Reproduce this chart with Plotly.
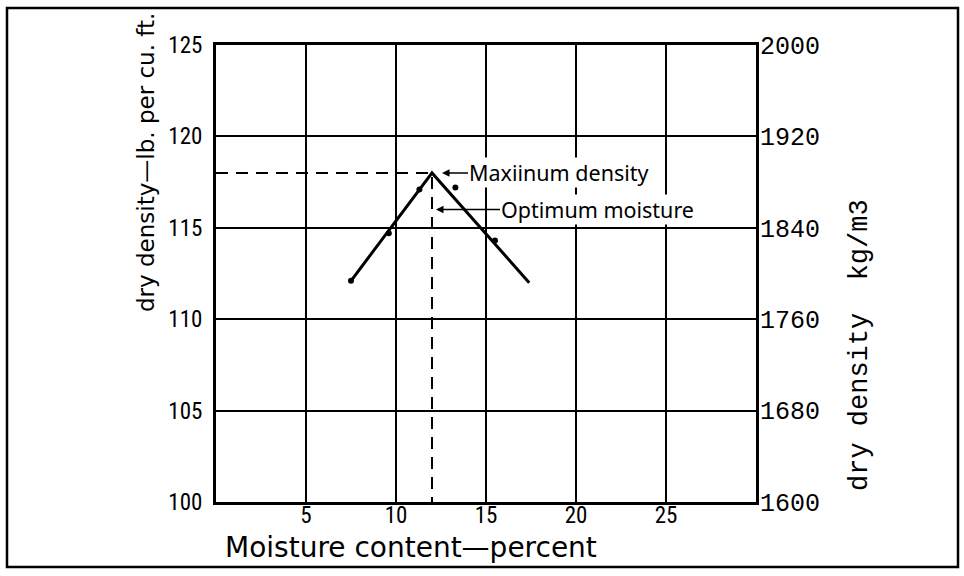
import plotly.graph_objects as go

# Compaction test readings: moisture content (%) vs dry density (lb per cu. ft.)
moisture = [7.5, 9.6, 11.3, 13.3, 15.5]
dry_density = [112.1, 114.7, 117.1, 117.2, 114.3]

# Straight-line compaction curve through the readings
curve_moisture = [7.5, 12.0, 17.4]
curve_density = [112.1, 118.0, 112.0]

OPT_MOISTURE = 12.0
MAX_DENSITY = 118.0

x_ticks = [5, 10, 15, 20, 25]
y_ticks = [100, 105, 110, 115, 120, 125]
metric_ticks = [1600, 1680, 1760, 1840, 1920, 2000]

W, H = 964, 576
L, R, T, B = 216, 208, 45, 74
PW, PH = W - L - R, H - T - B

HAND = "Liberation Sans Narrow, Roboto Condensed, Liberation Sans, sans-serif"
TEXT = "DejaVu Sans, Noto Sans, sans-serif"
NOTE = "Noto Sans, DejaVu Sans, sans-serif"
MONO = "Liberation Mono, Courier New, monospace"


def lb_to_kg(v):
    return 1600 + (v - 100) * 16


fig = go.Figure()

# guide lines from the peak to both axes
fig.add_trace(go.Scatter(
    x=[0, OPT_MOISTURE, OPT_MOISTURE], y=[MAX_DENSITY, MAX_DENSITY, 100],
    mode="lines", line=dict(color="black", width=2, dash="12px,8px"),
    hoverinfo="skip", showlegend=False))

fig.add_trace(go.Scatter(
    x=curve_moisture, y=curve_density, mode="lines",
    line=dict(color="black", width=3), showlegend=False))

fig.add_trace(go.Scatter(
    x=moisture, y=dry_density, mode="markers",
    marker=dict(color="black", size=6), showlegend=False))

# same curve on the metric scale (keeps the right-hand axis in place)
fig.add_trace(go.Scatter(
    x=curve_moisture, y=[lb_to_kg(v) for v in curve_density], yaxis="y2",
    mode="lines", line=dict(color="rgba(0,0,0,0)", width=0),
    hoverinfo="skip", showlegend=False))

fig.update_layout(
    width=W, height=H,
    margin=dict(l=L, r=R, t=T, b=B),
    paper_bgcolor="white", plot_bgcolor="white",
    showlegend=False,
    xaxis=dict(
        range=[0, 30], tickvals=x_ticks, ticktext=[str(v) for v in x_ticks],
        showgrid=True, gridcolor="black", gridwidth=2,
        showline=True, linecolor="black", linewidth=3, mirror=True,
        zeroline=False, ticks="", ticklabelstandoff=-10,
        tickfont=dict(family=HAND, size=23, color="black")),
    yaxis=dict(
        range=[100, 125], tickvals=y_ticks, ticktext=[str(v) for v in y_ticks],
        showgrid=True, gridcolor="black", gridwidth=2,
        showline=True, linecolor="black", linewidth=3, mirror=True,
        zeroline=False, ticks="", ticklabelstandoff=6,
        tickfont=dict(family=HAND, size=23, color="black")),
    yaxis2=dict(
        overlaying="y", side="right", range=[1600, 2000],
        tickvals=metric_ticks, ticktext=[str(v) for v in metric_ticks],
        showgrid=False, showline=False, zeroline=False, ticks="",
        ticklabelstandoff=3,
        tickfont=dict(family=MONO, size=25, color="black")),
)


def px_x(px):
    return (px - L) / PW


def px_y(py):
    return (H - B - py) / PH


annotations = [
    dict(text="Moisture content\u2014percent", xref="paper", yref="paper",
         x=px_x(411), y=px_y(547), xanchor="center", yanchor="middle",
         showarrow=False, font=dict(family=TEXT, size=28, color="black")),
    dict(text="dry density\u2014lb. per cu. ft.", xref="paper", yref="paper",
         x=px_x(146), y=px_y(163), xanchor="center", yanchor="middle",
         textangle=-90, showarrow=False,
         font=dict(family=TEXT, size=23, color="black")),
    dict(text="dry density\u00a0\u00a0kg/m3", xref="paper", yref="paper",
         x=px_x(860), y=px_y(345), xanchor="center", yanchor="middle",
         textangle=-90, showarrow=False,
         font=dict(family=MONO, size=27, color="black")),
    dict(text="Maxiinum density", x=OPT_MOISTURE, y=MAX_DENSITY,
         xshift=10, ax=26, ay=0, xanchor="left", showarrow=True,
         arrowhead=2, arrowsize=1, arrowwidth=1.5, arrowcolor="black",
         bgcolor="white", borderpad=0,
         font=dict(family=NOTE, size=21.5, color="black")),
    dict(text="Optimum moisture", x=OPT_MOISTURE, y=116.0,
         xshift=4, ax=64, ay=0, xanchor="left", showarrow=True,
         arrowhead=2, arrowsize=1, arrowwidth=1.5, arrowcolor="black",
         bgcolor="white", borderpad=0,
         font=dict(family=NOTE, size=21.5, color="black")),
]
fig.update_layout(annotations=annotations)

# outer frame around the whole figure
fig.add_shape(type="rect", xref="paper", yref="paper",
              x0=px_x(7), x1=px_x(958), y0=px_y(567), y1=px_y(8),
              line=dict(color="black", width=2.5), fillcolor="rgba(0,0,0,0)")

fig.write_html("out.html")
